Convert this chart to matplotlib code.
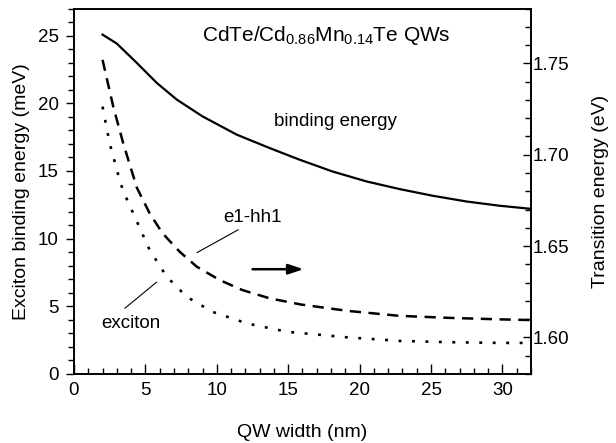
#
# plot.py - exciton binding energy and transition energies vs QW width
#
import matplotlib
matplotlib.use('Agg')
import matplotlib.pyplot as plt
import matplotlib.ticker as plticker

plt.rcParams['font.family'] = ['Liberation Sans', 'DejaVu Sans']
plt.rcParams['mathtext.fontset'] = 'custom'
plt.rcParams['mathtext.rm'] = 'Liberation Sans'
plt.rcParams['mathtext.default'] = 'regular'

# Binding energy (meV, left axis)
width_be = [2, 3, 4.4, 5.8, 7.2, 9, 11.4, 13.7, 15.8, 18.1, 20.5, 22.8, 25.1, 27.5, 29.8, 32]
binding_energy = [25.07, 24.41, 22.98, 21.5, 20.27, 19.03, 17.68, 16.69, 15.83, 14.96,
                  14.22, 13.66, 13.17, 12.74, 12.43, 12.2]

# e1-hh1 transition (eV, right axis)
width_e1 = [2, 2.75, 3.45, 4.4, 5.3, 6.2, 7.4, 8.6, 10.2, 11.8, 13.7, 15.9, 19.2, 22.8, 26.3, 29.8, 32]
e1hh1 = [1.7519, 1.7263, 1.7062, 1.6820, 1.6679, 1.6570, 1.6469, 1.6387, 1.6314, 1.6259,
         1.6214, 1.6180, 1.6145, 1.6118, 1.6107, 1.6099, 1.6095]

# exciton transition (eV, right axis)
width_x = [2, 2.5, 3.2, 3.45, 4.15, 5.3, 6.5, 7.9, 9.7, 12.1, 14.9, 19.2, 22.8, 26.3, 29.8, 32]
exciton = [1.7263, 1.7062, 1.6861, 1.6800, 1.6679, 1.6478, 1.6332, 1.6222, 1.6140, 1.6077,
           1.6031, 1.6000, 1.5981, 1.5974, 1.5970, 1.5970]

fig = plt.figure(figsize=(6.16, 4.43), dpi=100)
ax = fig.add_axes([0.1201, 0.1558, 0.7419, 0.825])
ax2 = ax.twinx()

ax.plot(width_be, binding_energy, color='black', lw=1.6, solid_joinstyle='round')
ax2.plot(width_e1, e1hh1, color='black', lw=1.8, linestyle=(0, (4.5, 3)))
ax2.plot(width_x, exciton, color='black', lw=1.9, linestyle=(0, (1.1, 4)))

ax.set_xlim(0, 32)
ax.set_ylim(0, 27)
ax2.set_ylim(1.58, 1.78)

# ticks
ax.xaxis.set_major_locator(plticker.MultipleLocator(5))
ax.xaxis.set_minor_locator(plticker.MultipleLocator(1))
ax.yaxis.set_major_locator(plticker.MultipleLocator(5))
ax.yaxis.set_minor_locator(plticker.MultipleLocator(1))
ax2.yaxis.set_major_locator(plticker.MultipleLocator(0.05))
ax2.yaxis.set_minor_locator(plticker.MultipleLocator(0.01))
ax2.yaxis.set_major_formatter(plticker.FormatStrFormatter('%.2f'))

ax.tick_params(axis='x', which='both', direction='in', labelsize=13.5, pad=6, width=1)
ax.tick_params(axis='x', which='major', length=7.5)
ax.tick_params(axis='x', which='minor', length=4.5)
ax.tick_params(axis='y', which='both', direction='out', labelsize=13.5, pad=5, width=1)
ax.tick_params(axis='y', which='major', length=6)
ax.tick_params(axis='y', which='minor', length=4)
ax2.tick_params(axis='y', which='both', direction='in', labelsize=13.5, pad=1.5, width=1)
ax2.tick_params(axis='y', which='major', length=5.5)
ax2.tick_params(axis='y', which='minor', length=4.5)

for a in (ax, ax2):
    for s in a.spines.values():
        s.set_linewidth(1.2)

# labels
ax.set_xlabel('QW width (nm)', fontsize=14)
ax.set_ylabel('Exciton binding energy (meV)', fontsize=14)
ax2.set_ylabel('Transition energy (eV)', fontsize=14)
ax.xaxis.set_label_coords(0.5, -0.159)
ax.yaxis.set_label_coords(-0.114, 0.5)
ax2.yaxis.set_label_coords(1.151, 0.5)
ax.xaxis.label.set_va('center')
ax.yaxis.label.set_va('center')
ax2.yaxis.label.set_va('center')

# texts and annotations (left axis data coords)
ax.text(8.93, 24.58, 'CdTe/Cd$_{0.86}$Mn$_{0.14}$Te QWs', fontsize=15, va='baseline')
ax.text(13.99, 18.29, 'binding energy', fontsize=13.5, va='baseline')
ax.text(10.44, 11.26, 'e1-hh1', fontsize=13.5, va='baseline')
ax.plot([11.49, 8.62], [10.65, 8.97], color='black', lw=0.8)
ax.text(1.94, 3.40, 'exciton', fontsize=13.5, va='baseline')
ax.plot([3.57, 5.78], [4.86, 6.78], color='black', lw=0.8)
ax.annotate('', xy=(16.27, 7.74), xytext=(12.31, 7.74),
            arrowprops=dict(arrowstyle='-|>,head_length=0.9,head_width=0.3', color='black', lw=1.8))

fig.savefig('out.png', dpi=100)
